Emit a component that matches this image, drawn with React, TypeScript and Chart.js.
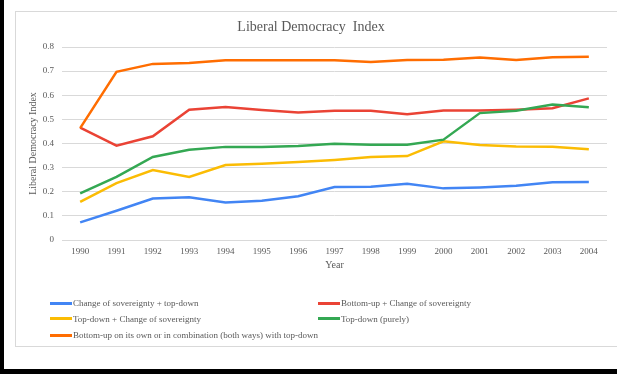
import React, { useEffect, useRef } from "react";
import { Chart, registerables } from "chart.js";

Chart.register(...registerables);

const years = ["1990","1991","1992","1993","1994","1995","1996","1997","1998","1999","2000","2001","2002","2003","2004"];

const changeTopDown = [0.073,0.121,0.172,0.177,0.155,0.163,0.181,0.220,0.221,0.233,0.214,0.218,0.225,0.239,0.240];
const bottomUpChange = [0.466,0.391,0.430,0.540,0.551,0.539,0.529,0.536,0.536,0.521,0.537,0.537,0.540,0.546,0.587];
const topDownChange = [0.158,0.236,0.290,0.261,0.311,0.316,0.323,0.332,0.344,0.348,0.409,0.394,0.388,0.387,0.376];
const topDownPurely = [0.193,0.262,0.344,0.374,0.386,0.385,0.390,0.399,0.395,0.395,0.416,0.526,0.536,0.562,0.550];
const bottomUpOwn = [0.464,0.697,0.730,0.734,0.745,0.745,0.745,0.745,0.738,0.746,0.747,0.756,0.746,0.757,0.760];

const seriesLabels = [
  "Change of sovereignty + top-down",
  "Bottom-up + Change of sovereignty",
  "Top-down + Change of sovereignty",
  "Top-down (purely)",
  "Bottom-up on its own or in combination (both ways) with top-down",
];
const seriesData = [changeTopDown, bottomUpChange, topDownChange, topDownPurely, bottomUpOwn];
const seriesColors = ["#4285F4", "#EA4335", "#FBBC04", "#34A853", "#FF6D01"];

const yTicks = [0, 0.1, 0.2, 0.3, 0.4, 0.5, 0.6, 0.7, 0.8];

const SERIF = "'Liberation Serif', 'Times New Roman', serif";
const GRAY = "#595959";

export default function App() {
  const canvasRef = useRef<HTMLCanvasElement | null>(null);

  useEffect(() => {
    document.body.style.margin = "0";
    const canvas = canvasRef.current;
    if (!canvas) return;
    const chart = new Chart(canvas, {
      type: "line",
      data: {
        labels: years,
        datasets: seriesData.map((d, i) => ({
          label: seriesLabels[i],
          data: d,
          borderColor: seriesColors[i],
          backgroundColor: seriesColors[i],
          borderWidth: 2.5,
          pointRadius: 0,
          tension: 0,
          fill: false,
          order: seriesData.length - i,
        })),
      },
      options: {
        animation: false,
        responsive: false,
        maintainAspectRatio: false,
        layout: { padding: { left: 0, right: 10, top: 0, bottom: 71 } },
        plugins: {
          legend: { display: false },
          tooltip: { enabled: false },
          title: {
            display: true,
            text: "Liberal Democracy  Index",
            color: GRAY,
            font: { family: SERIF, size: 14, weight: "normal" },
            padding: { top: 7.6, bottom: 11.6 },
          },
        },
        scales: {
          x: {
            offset: true,
            grid: { display: false, drawTicks: false },
            border: { display: false },
            ticks: { color: GRAY, font: { family: SERIF, size: 9 }, padding: 6, maxRotation: 0 },
            title: {
              display: true,
              text: "Year",
              color: GRAY,
              font: { family: SERIF, size: 10 },
              padding: { top: 0, bottom: 4 },
            },
            afterFit: (scale: any) => {
              scale.height = 35;
            },
          },
          y: {
            min: 0,
            max: 0.8,
            afterBuildTicks: (scale: any) => {
              scale.ticks = yTicks.map((v) => ({ value: v }));
            },
            grid: { color: "#d9d9d9", lineWidth: 1, drawTicks: false },
            border: { display: false },
            ticks: {
              color: GRAY,
              font: { family: SERIF, size: 9 },
              padding: 8,
              callback: (v: any) => (v === 0 ? "0" : Number(v).toFixed(1)),
            },
            title: {
              display: true,
              text: "Liberal Democracy Index",
              color: GRAY,
              font: { family: SERIF, size: 10 },
              padding: { top: 12, bottom: 0 },
            },
            afterFit: (scale: any) => {
              scale.width = 47;
            },
          },
        },
      },
    });
    return () => chart.destroy();
  }, []);

  const legendRows = [50 + 253, 318.5, 335];
  const colX = [50, 318];

  return (
    <div style={{ position: "relative", width: 617, height: 374, background: "#fff", overflow: "hidden" }}>
      <div style={{ position: "absolute", left: 0, top: 0, width: 4, height: 374, background: "#000" }} />
      <div style={{ position: "absolute", left: 0, top: 369, width: 617, height: 5, background: "#000" }} />
      <div
        style={{
          position: "absolute",
          left: 15,
          top: 11,
          width: 620,
          height: 334,
          border: "1px solid #d9d9d9",
          boxSizing: "content-box",
        }}
      />
      <canvas
        ref={canvasRef}
        width={602}
        height={335}
        style={{ position: "absolute", left: 15, top: 11, width: 602, height: 335 }}
      />
      {seriesLabels.map((label, i) => {
        const row = Math.floor(i / 2);
        const col = i % 2;
        return (
          <div
            key={label}
            style={{
              position: "absolute",
              left: colX[col],
              top: legendRows[row] - 7,
              height: 14,
              display: "flex",
              alignItems: "center",
              whiteSpace: "nowrap",
              fontFamily: SERIF,
              fontSize: 9,
              color: GRAY,
            }}
          >
            <span style={{ display: "inline-block", width: 22, height: 3, background: seriesColors[i], marginRight: 1 }} />
            <span>{label}</span>
          </div>
        );
      })}
    </div>
  );
}
